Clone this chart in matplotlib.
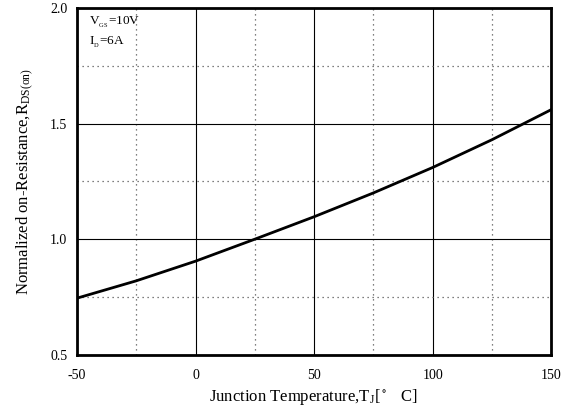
import matplotlib.pyplot as plt
import numpy as np

# datos
temp = np.array([-50, -25, 0, 25, 50, 75, 100, 125, 150])
rds = np.array([0.745, 0.82, 0.905, 1.0, 1.097, 1.2, 1.31, 1.43, 1.56])

plt.rcParams['font.family'] = ['Liberation Serif', 'DejaVu Serif']
plt.rcParams['mathtext.fontset'] = 'stix'
plt.rcParams['axes.unicode_minus'] = False

fig = plt.figure(figsize=(5.7, 4.16), dpi=100)
ax = fig.add_axes([0.135, 0.147, 0.832, 0.834])

ax.plot(temp, rds, color='black', linewidth=2)

ax.set_xlim(-50, 150)
ax.set_ylim(0.5, 2.0)
ax.set_xticks([-50, 0, 50, 100, 150])
ax.set_yticks([0.5, 1.0, 1.5, 2.0])
ax.set_xticks([-25, 25, 75, 125], minor=True)
ax.set_yticks([0.75, 1.25, 1.75], minor=True)
ax.set_yticklabels(['0.5', '1.0', '1.5', '2.0'])
ax.grid(True, which='major', color='black', linewidth=0.8)
ax.grid(True, which='minor', color='#555555', linestyle=(0, (1, 3)), linewidth=0.9)
ax.tick_params(which='both', length=0, labelsize=10)
ax.tick_params(axis='x', pad=10)
ax.tick_params(axis='y', pad=7)

for s in ax.spines.values():
    s.set_linewidth(2)

ax.set_xlabel(r'Junction Temperature,T$_\mathregular{J}$[$^\circ$   C]', fontsize=12, labelpad=4)
ax.set_ylabel(r'Normalized on-Resistance,R$_\mathregular{DS(on)}$', fontsize=12, labelpad=10)

ax.text(-45, 1.925, r'V$_{_\mathregular{GS}}$=10V', fontsize=9.5)
ax.text(-45, 1.84, r'I$_{_\mathregular{D}}$=6A', fontsize=9.5)

plt.savefig('out.png', dpi=100)
